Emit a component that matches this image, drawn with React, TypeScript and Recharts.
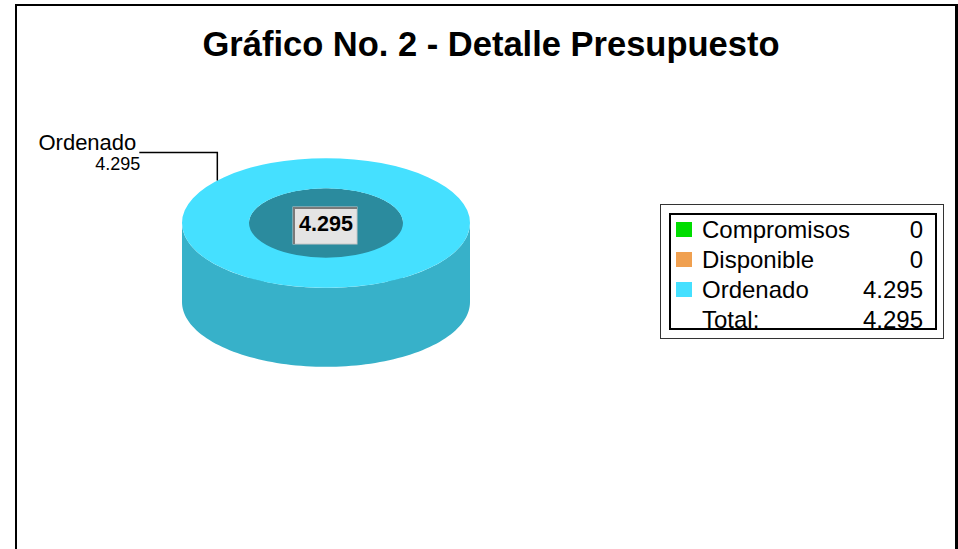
import React from 'react';
import { PieChart, Pie, Cell, Legend } from 'recharts';

// budget detail, values as shown (4.295 = 4295, dot as thousands separator)
const categories = ['Compromisos', 'Disponible', 'Ordenado'];
const amounts = [0, 0, 4295];
const sliceColors = ['#00DD00', '#F0A050', '#45E0FF'];
const chartTitle = 'Gráfico No. 2 - Detalle Presupuesto';

const data = categories.map((name, i) => ({ name, value: amounts[i] }));
const total = amounts.reduce((a, b) => a + b, 0);

const FONT = '"Liberation Sans", Arial, sans-serif';
const TILT = 0.45; // vertical squash of the ellipse
const DEPTH = 79; // height of the cylinder wall

const fmt = (n: number) => String(n).replace(/\B(?=(\d{3})+(?!\d))/g, '.');

const shade = (hex: string, k: number) => {
  const n = parseInt(hex.slice(1), 16);
  const r = Math.round(((n >> 16) & 255) * k);
  const g = Math.round(((n >> 8) & 255) * k);
  const b = Math.round((n & 255) * k);
  return `rgb(${r},${g},${b})`;
};

const arcPts = (cx: number, cy: number, r: number, a0: number, a1: number, dz: number) => {
  const n = Math.max(2, Math.ceil(Math.abs(a1 - a0) / 2));
  const pts: string[] = [];
  for (let i = 0; i <= n; i++) {
    const a = ((a0 + ((a1 - a0) * i) / n) * Math.PI) / 180;
    pts.push(`${(cx + r * Math.cos(a)).toFixed(2)},${(cy - r * Math.sin(a) * TILT + dz).toFixed(2)}`);
  }
  return pts;
};

// parts of [s, e] that fall in [lo, hi] (mod 360)
const clipRanges = (s: number, e: number, lo: number, hi: number) => {
  if (e - s >= 359.99) return [[lo, hi]];
  const out: number[][] = [];
  for (let k = -2; k <= 2; k++) {
    const a = Math.max(s, lo + 360 * k);
    const b = Math.min(e, hi + 360 * k);
    if (b > a) out.push([a, b]);
  }
  return out;
};

const Ring3D = (props: any) => {
  const { cx, cy, innerRadius, outerRadius, startAngle, endAngle, fill } = props;
  const s = Math.min(startAngle, endAngle);
  const e = Math.max(startAngle, endAngle);
  if (e - s < 0.01) return null;
  const wall = (r: number, a: number, b: number) =>
    'M' + [...arcPts(cx, cy, r, a, b, 0), ...arcPts(cx, cy, r, b, a, DEPTH)].join('L') + 'Z';
  const inner = clipRanges(s, e, 0, 180).map(([a, b]) => wall(innerRadius, a, b));
  const outer = clipRanges(s, e, 180, 360).map(([a, b]) => wall(outerRadius, a, b));
  let top: string;
  if (e - s >= 359.99) {
    const ell = (r: number) =>
      `M${cx - r},${cy} a${r},${r * TILT} 0 1 0 ${2 * r},0 a${r},${r * TILT} 0 1 0 ${-2 * r},0Z`;
    top = ell(outerRadius) + ell(innerRadius);
  } else {
    top = 'M' + [...arcPts(cx, cy, outerRadius, s, e, 0), ...arcPts(cx, cy, innerRadius, e, s, 0)].join('L') + 'Z';
  }
  return (
    <g>
      {inner.map((d, i) => <path key={'in' + i} d={d} fill={shade(fill, 0.62)} />)}
      {outer.map((d, i) => <path key={'out' + i} d={d} fill={shade(fill, 0.79)} />)}
      <path d={top} fill={fill} fillRule="evenodd" />
    </g>
  );
};

const renderLabel = (props: any) => {
  const { cx, cy, midAngle, outerRadius, value, name } = props;
  if (!value) return null;
  const rad = (midAngle * Math.PI) / 180;
  const x = cx + outerRadius * Math.cos(rad);
  const y = cy - outerRadius * Math.sin(rad) * TILT;
  const elbowY = y - 28;
  const endX = x - 78;
  const bx = cx - 33;
  const by = cy - 16;
  return (
    <g fontFamily={FONT}>
      <polyline points={`${x},${y} ${x},${elbowY} ${endX},${elbowY}`} fill="none" stroke="#000" strokeWidth={1.5} />
      <text x={endX - 3} y={elbowY - 2} textAnchor="end" fontSize={22} fill="#000">{name}</text>
      <text x={endX + 1} y={elbowY + 18} textAnchor="end" fontSize={18} fill="#000">{fmt(value)}</text>
      {/* value box in the hole */}
      <rect x={bx} y={by} width={64} height={37} fill="#E4E4E4" stroke="#C8C8C8" strokeWidth={1} />
      <polyline points={`${bx + 1},${by + 37} ${bx + 1},${by + 1} ${bx + 64},${by + 1}`} fill="none" stroke="#7A7A7A" strokeWidth={2} />
      <text x={cx} y={cy + 8} textAnchor="middle" fontSize={21.5} fontWeight="bold" fill="#000">{fmt(value)}</text>
    </g>
  );
};

const LegendBox = (props: any) => {
  const items = props.payload || [];
  const row = (key: string, label: string, val: string, color?: string) => (
    <div key={key} style={{ position: 'relative', height: 30 }}>
      {color && <div style={{ position: 'absolute', left: 5, top: 7, width: 16, height: 15, background: color }} />}
      <span style={{ position: 'absolute', left: 31, top: 0 }}>{label}</span>
      <span style={{ position: 'absolute', right: 12, top: 0 }}>{val}</span>
    </div>
  );
  return (
    <div style={{ width: 284, height: 135, border: '1px solid #333', boxSizing: 'border-box', background: '#fff', position: 'relative', fontFamily: FONT, color: '#000' }}>
      <div style={{ position: 'absolute', left: 8, top: 8, width: 268, height: 117, border: '2px solid #000', boxSizing: 'border-box', fontSize: 24, lineHeight: '30px' }}>
        {items.map((it: any) => {
          const i = categories.indexOf(it.value);
          return row(it.value, it.value, fmt(amounts[i]), sliceColors[i]);
        })}
        {row('total', 'Total:', fmt(total))}
      </div>
    </div>
  );
};

export default function App() {
  return (
    <div style={{ position: 'absolute', left: 0, top: 0, width: 958, height: 549, overflow: 'hidden', background: '#fff', fontFamily: FONT }}>
      <div style={{ position: 'absolute', left: 15, top: 4, width: 943, height: 620, borderLeft: '2px solid #000', borderTop: '2px solid #000', borderRight: '3px solid #000', boxSizing: 'border-box' }} />
      <svg width={958} height={80} style={{ position: 'absolute', left: 0, top: 0 }}>
        <text x={491} y={56} textAnchor="middle" fontFamily={FONT} fontWeight="bold" fontSize={34.5} fill="#000">{chartTitle}</text>
      </svg>
      <div style={{ position: 'absolute', left: 0, top: 0 }}>
        <PieChart width={958} height={549} margin={{ top: 0, right: 0, bottom: 0, left: 0 }}>
          <Pie
            data={data}
            dataKey="value"
            nameKey="name"
            cx={326}
            cy={223}
            innerRadius={77}
            outerRadius={144}
            startAngle={-41}
            endAngle={319}
            stroke="none"
            shape={Ring3D}
            activeShape={Ring3D}
            inactiveShape={Ring3D}
            label={renderLabel}
            labelLine={false}
            isAnimationActive={false}
          >
            {data.map((d, i) => (
              <Cell key={d.name} fill={sliceColors[i]} />
            ))}
          </Pie>
          <Legend
            layout="vertical"
            align="right"
            verticalAlign="middle"
            content={<LegendBox />}
            wrapperStyle={{ left: 660, top: 204, width: 284, height: 135 }}
          />
        </PieChart>
      </div>
    </div>
  );
}
